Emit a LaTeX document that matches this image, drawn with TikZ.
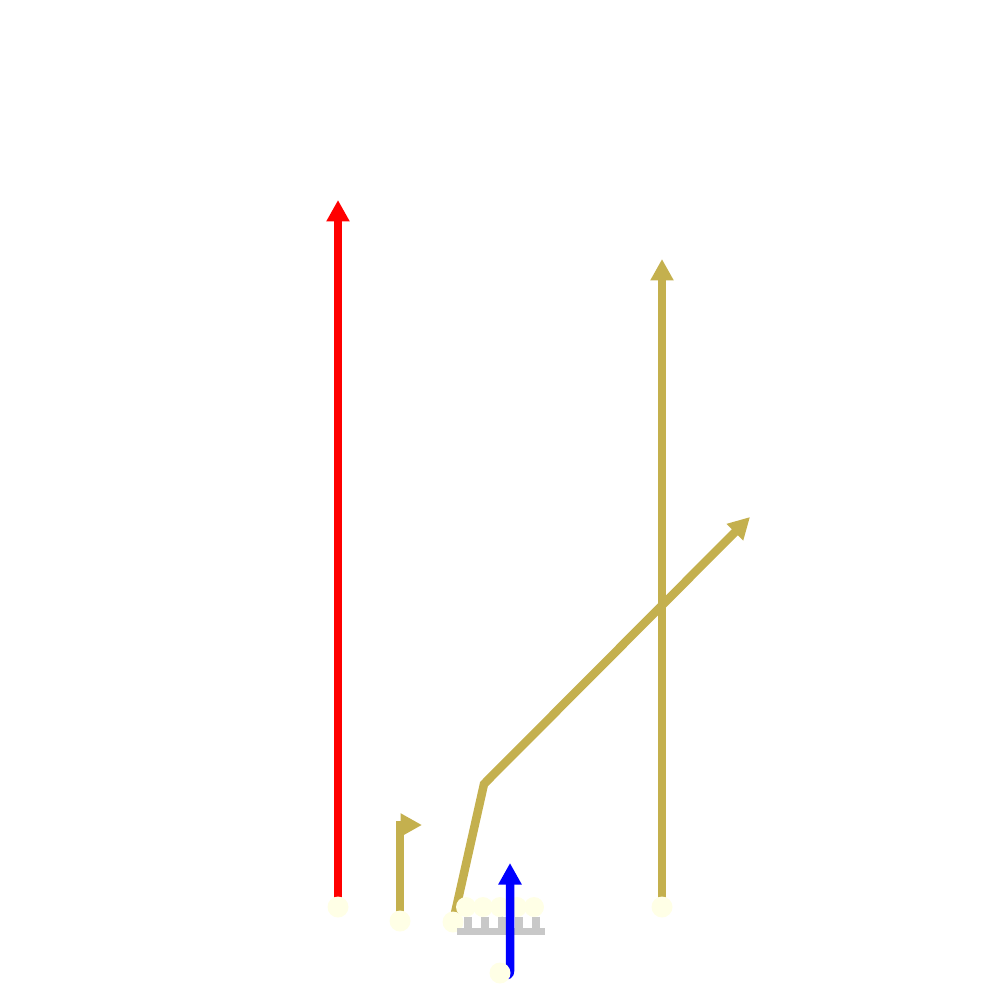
\documentclass[tikz,border=0pt]{standalone}
\usepackage{tikz}
\usetikzlibrary{arrows.meta, backgrounds}

\definecolor{routegold}{RGB}{196,176,78}
\definecolor{playerfill}{RGB}{255,255,230}
\definecolor{blockgray}{RGB}{200,200,200}
\definecolor{ballgreen}{RGB}{60,200,110}

\begin{document}
\begin{tikzpicture}[
    x=0.02cm, y=-0.02cm,
    player/.style={circle, minimum size=0.42cm, inner sep=0pt, fill=playerfill},
    lineman/.style={circle, minimum size=0.4cm, inner sep=0pt, fill=playerfill},
    route/.style={line width=0.17cm, -{Triangle[length=0.43cm, width=0.44cm]}},
    block/.style={line width=0.15cm, draw=blockgray}
]
\useasboundingbox (0,0) rectangle (1000,1000);

% receivers
\node (wrleft) [player] at (338,907) {};
\node (slot) [player] at (400,921) {};
\node (te) [player] at (453,922) {};
\node (wrright) [player] at (662,907) {};

% route breaks and ends
\coordinate (goend) at (338,200);
\coordinate (slotbreak) at (400,825);
\coordinate (flatend) at (422,825);
\coordinate (tebreak) at (484,784);
\coordinate (postend) at (750,517);
\coordinate (streakend) at (662,259);

\begin{scope}[on background layer]
\draw [route, red] (wrleft.center) -- (goend);
\draw [route, routegold] (slot.center) -- (slotbreak) -- (flatend);
\draw [route, routegold] (te.center) -- (tebreak) -- (postend);
\draw [route, routegold] (wrright.center) -- (streakend);
\end{scope}

% line
\node (ball) [circle, inner sep=0pt, minimum size=0.1cm, fill=ballgreen] at (502,919) {};
\foreach \x [count=\i] in {466,483,500,517,534}
    \node (ol\i) [lineman] at (\x,907) {};
\foreach \i in {1,...,5}
    \draw [block] ([xshift=0.04cm]ol\i.south) -- ++(0,14) ++(-11,0) -- ++(20,0);

% quarterback
\coordinate (qbspot) at (500,973);
\coordinate (dropturn) at (510,977);
\coordinate (runend) at (510,863);
\draw [route, blue, rounded corners=0.12cm] (qbspot) -- (dropturn) -- (runend);
\node (qb) [player] at (qbspot) {};
\end{tikzpicture}
\end{document}
